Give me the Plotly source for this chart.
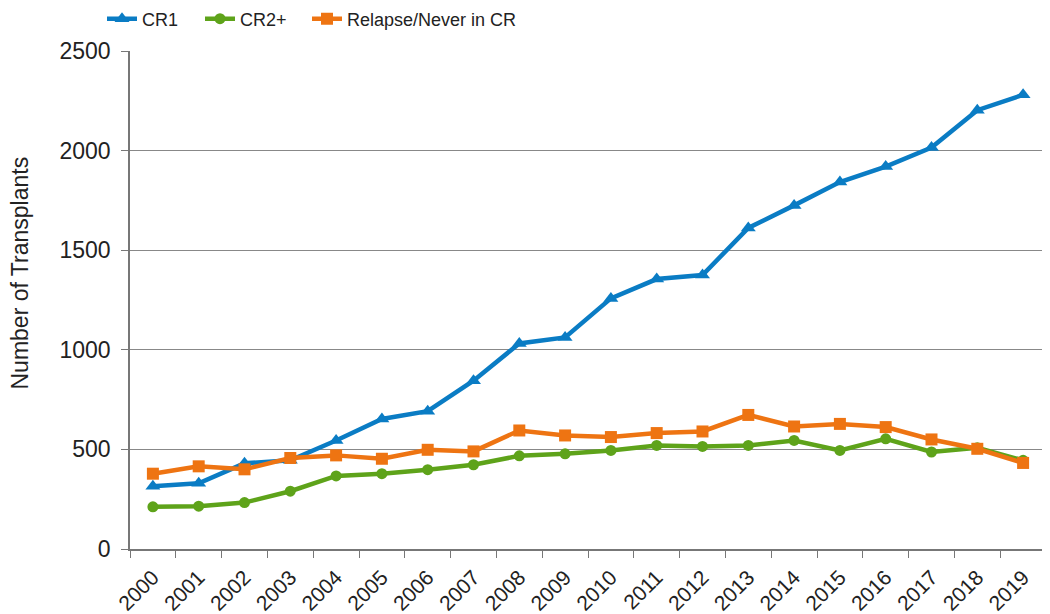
import plotly.graph_objects as go

years = [str(y) for y in range(2000, 2020)]
cr1 = [315, 330, 430, 445, 545, 653, 692, 845, 1032, 1062, 1258, 1355, 1375,
       1612, 1725, 1842, 1920, 2015, 2203, 2280]
cr2 = [212, 215, 233, 290, 367, 378, 398, 423, 468, 478, 495, 520, 515,
       520, 545, 495, 553, 487, 508, 445]
relapse = [378, 415, 400, 457, 470, 453, 498, 490, 595, 570, 562, 582, 590,
           673, 615, 628, 612, 550, 503, 432]

FONT = "Liberation Sans, Arial, sans-serif"
NARROW = "Liberation Sans Narrow, Arial Narrow, Liberation Sans, sans-serif"
W, H = 1042, 606  # page body has an 8px margin
ML, MR, MT, MB = 122, 4, 43, 65
PW, PH = W - ML - MR, H - MT - MB

fig = go.Figure()
fig.add_trace(go.Scatter(x=years, y=cr1, name="CR1", mode="lines+markers", legend="legend",
                         line=dict(color="#0a7cc4", width=4.5),
                         marker=dict(symbol="triangle-up", size=13, color="#0a7cc4")))
fig.add_trace(go.Scatter(x=years, y=cr2, name="CR2+", mode="lines+markers", legend="legend2",
                         line=dict(color="#5ea31a", width=4.5),
                         marker=dict(symbol="circle", size=11, color="#5ea31a")))
fig.add_trace(go.Scatter(x=years, y=relapse, name="Relapse/Never in CR", mode="lines+markers",
                         legend="legend3",
                         line=dict(color="#ee7412", width=4.5),
                         marker=dict(symbol="square", size=12, color="#ee7412")))

def leg(xpx):
    return dict(x=xpx / W, xref="container", xanchor="left", y=1 - 11 / H, yref="container",
                yanchor="middle", font=dict(family=NARROW, size=18, color="#222"),
                bgcolor="rgba(0,0,0,0)", itemwidth=30, tracegroupgap=0)

fig.update_layout(
    width=W, height=H,
    margin=dict(l=ML, r=MR, t=MT, b=MB, autoexpand=False),
    paper_bgcolor="white", plot_bgcolor="white",
    font=dict(family=FONT, size=20, color="#222"),
    legend=leg(94), legend2=leg(192), legend3=leg(299),
    showlegend=True,
)
fig.update_xaxes(type="category", range=[-0.5, len(years) - 0.5],
                 tickson="boundaries", ticks="outside", ticklen=7,
                 tickcolor="#777", showline=True, linecolor="#777", linewidth=1.5,
                 tickangle=-45, tickfont=dict(size=21), ticklabelstandoff=6, showgrid=False)
fig.update_yaxes(range=[0, 2500], dtick=500, ticks="outside", ticklen=7, tickcolor="#777",
                 showline=True, linecolor="#777", linewidth=1.5,
                 showgrid=True, gridcolor="#888", gridwidth=1, zeroline=False,
                 ticklabelstandoff=6, tickfont=dict(size=23))

fig.add_annotation(text="Number of Transplants", textangle=-90, showarrow=False,
                   xref="paper", yref="paper", x=-(ML - 11) / PW, y=(H - MB - 265.5) / PH,
                   xanchor="center", yanchor="middle", font=dict(size=23, color="#222"))

fig.write_html("out.html")
